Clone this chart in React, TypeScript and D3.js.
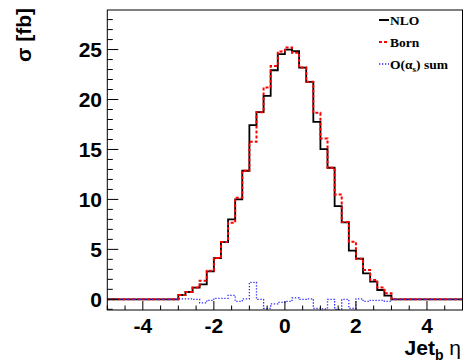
import React from "react";
import * as d3 from "d3";

const binStart = -3;
const binWidth = 0.2;
const nloValues = [0.43, 0.73, 1.17, 1.5, 2.8, 4.13, 5.73, 8.0, 10.0, 12.87, 17.43, 18.73, 20.37, 22.93, 24.55, 25.0, 24.83, 23.2, 21.77, 17.77, 15.03, 13.17, 9.33, 7.7, 4.87, 4.07, 2.6, 1.77, 0.93, 0.37];
const bornValues = [0.43, 0.73, 1.17, 1.87, 2.85, 4.13, 5.73, 7.67, 10.17, 12.87, 15.77, 18.73, 21.2, 23.35, 24.8, 25.2, 24.67, 23.2, 21.77, 18.67, 16.1, 13.17, 10.5, 7.75, 5.77, 4.07, 2.93, 1.93, 1.17, 0.6];
const alphaSValues = [0.05, 0.05, 0.0, -0.35, -0.1, 0.1, 0.1, 0.4, -0.2, 0.05, 1.7, 0.0, -0.9, -0.45, -0.3, -0.2, 0.15, 0.0, 0.05, -0.9, -0.95, 0.0, -1.0, 0.0, -0.9, 0.05, -0.2, -0.1, -0.1, -0.2];
const xTickLabels = [-4, -2, 0, 2, 4];
const yTickLabels = [0, 5, 10, 15, 20, 25];
const legendLabels = ["NLO", "Born", "O(αs) sum"];

const W = 463;
const H = 362;
const xDomain: [number, number] = [-5, 5];
const yDomain: [number, number] = [-1.07, 28.96];

export default function App() {
  const x = d3.scaleLinear().domain(xDomain).range([107.3, 462.5]);
  const y = d3.scaleLinear().domain(yDomain).range([310, 10]);

  const stepPoints = (vals: number[]) => {
    const pts: [number, number][] = [[xDomain[0], 0], [binStart, 0]];
    vals.forEach((v, i) => {
      const x0 = binStart + i * binWidth;
      pts.push([x0, v]);
      pts.push([x0 + binWidth, v]);
    });
    const end = binStart + vals.length * binWidth;
    pts.push([end, 0]);
    pts.push([xDomain[1], 0]);
    return pts;
  };
  const line = d3
    .line<[number, number]>()
    .x((p) => x(p[0]))
    .y((p) => y(p[1]));

  const xMinor = d3.range(-5, 5.01, 0.5).filter((t) => !xTickLabels.includes(t));
  const yMinor = d3.range(-1, 29, 1).filter((t) => !yTickLabels.includes(t));

  const x0 = x(xDomain[0]);
  const x1 = x(xDomain[1]);
  const yb = y(yDomain[0]);
  const yt = y(yDomain[1]);

  const legendY = [20, 42, 64];
  const legendStyles = [
    { stroke: "#000", dash: undefined, width: 2 },
    { stroke: "#ff0000", dash: "3,2", width: 2 },
    { stroke: "#2a2aff", dash: "1.3,1.7", width: 1.3 },
  ];

  return (
    <svg width={W} height={H} style={{ position: "absolute", left: 0, top: 0, background: "#fff" }}>
      <rect x={0} y={0} width={W} height={H} fill="#fff" />
      {/* histograms */}
      <path d={line(stepPoints(nloValues)) || ""} fill="none" stroke="#000" strokeWidth={1.8} />
      <path d={line(stepPoints(bornValues)) || ""} fill="none" stroke="#ff0000" strokeWidth={2} strokeDasharray="3,2" />
      <path d={line(stepPoints(alphaSValues)) || ""} fill="none" stroke="#2a2aff" strokeWidth={1.3} strokeDasharray="1.3,1.7" />

      {/* frame */}
      <rect x={x0} y={yt} width={x1 - x0} height={yb - yt} fill="none" stroke="#000" strokeWidth={1} />

      {/* y ticks */}
      {yTickLabels.map((t) => (
        <g key={"ym" + t}>
          <line x1={x0} x2={x0 + 11} y1={y(t)} y2={y(t)} stroke="#000" strokeWidth={1} />
          <text x={102} y={y(t)} dy="0.36em" textAnchor="end" fontFamily="Liberation Sans, Arial, sans-serif" fontWeight="bold" fontSize={21}>
            {t}
          </text>
        </g>
      ))}
      {yMinor.map((t) => (
        <line key={"yn" + t} x1={x0} x2={x0 + 5.5} y1={y(t)} y2={y(t)} stroke="#000" strokeWidth={1} />
      ))}

      {/* x ticks */}
      {xTickLabels.map((t) => (
        <g key={"xm" + t}>
          <line x1={x(t)} x2={x(t)} y1={yb} y2={yb - 9} stroke="#000" strokeWidth={1} />
          <text x={x(t)} y={333} textAnchor="middle" fontFamily="Liberation Sans, Arial, sans-serif" fontWeight="bold" fontSize={21}>
            {t < 0 ? "-" + Math.abs(t) : String(t)}
          </text>
        </g>
      ))}
      {xMinor.map((t) => (
        <line key={"xn" + t} x1={x(t)} x2={x(t)} y1={yb} y2={yb - 4.5} stroke="#000" strokeWidth={1} />
      ))}

      {/* axis titles */}
      <text
        transform="translate(31,8) rotate(-90)"
        textAnchor="end"
        fontFamily="Liberation Sans, Arial, sans-serif"
        fontWeight="bold"
        fontSize={21}
      >
        σ [fb]
      </text>
      <text x={461} y={355} textAnchor="end" fontFamily="Liberation Sans, Arial, sans-serif" fontSize={21}>
        <tspan fontWeight="bold">Jet</tspan>
        <tspan fontWeight="bold" fontSize={14} dy={5}>b</tspan>
        <tspan dy={-5}> η</tspan>
      </text>

      {/* legend */}
      {legendLabels.map((lab, i) => (
        <g key={lab}>
          <line
            x1={379}
            x2={389}
            y1={legendY[i]}
            y2={legendY[i]}
            stroke={legendStyles[i].stroke}
            strokeWidth={legendStyles[i].width}
            strokeDasharray={legendStyles[i].dash}
          />
          <text x={390} y={legendY[i]} dy="0.35em" fontFamily="Liberation Serif, Times New Roman, serif" fontWeight="bold" fontSize={13.5}>
            {i === 2 ? (
              <>
                O(α<tspan fontSize={9} dy={3}>s</tspan>
                <tspan dy={-3}>) sum</tspan>
              </>
            ) : (
              lab
            )}
          </text>
        </g>
      ))}
    </svg>
  );
}
